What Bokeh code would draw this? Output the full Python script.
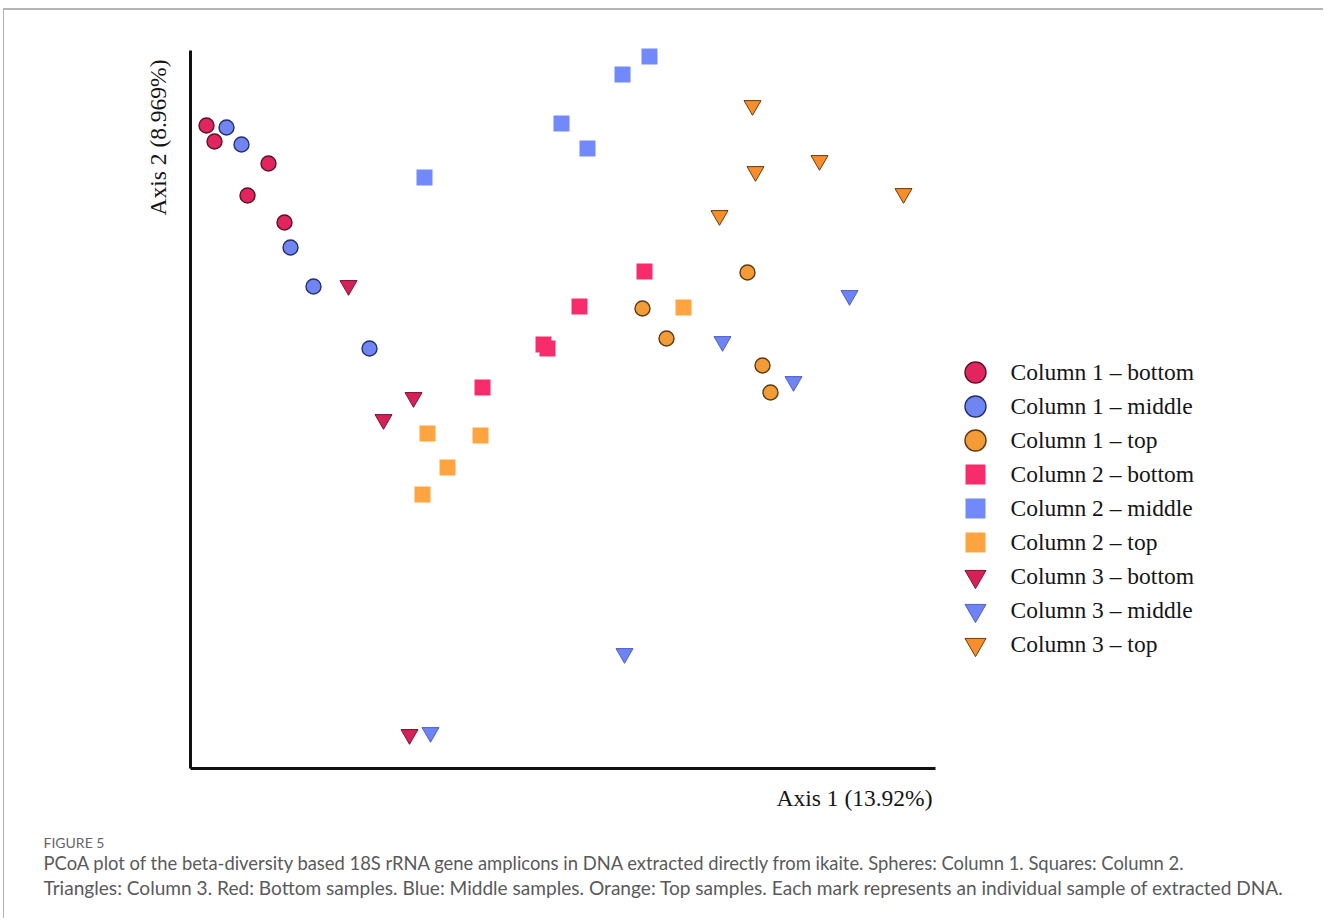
from bokeh.plotting import figure
from bokeh.models import Range1d, Label, FixedTicker, ColumnDataSource
from bokeh.core.properties import value
from bokeh.embed import file_html
from bokeh.resources import INLINE

# ---- data (PCoA scores) ----
c1_bottom_x = [-0.234, -0.226, -0.172, -0.193, -0.156]
c1_bottom_y = [0.293, 0.277, 0.255, 0.223, 0.196]
c1_middle_x = [-0.214, -0.199, -0.150, -0.127, -0.071]
c1_middle_y = [0.291, 0.274, 0.171, 0.132, 0.070]
c1_top_x = [0.307, 0.202, 0.226, 0.322, 0.330]
c1_top_y = [0.146, 0.110, 0.080, 0.053, 0.026]

c2_bottom_x = [0.204, 0.139, 0.103, 0.107, 0.042]
c2_bottom_y = [0.147, 0.112, 0.074, 0.070, 0.031]
c2_middle_x = [0.209, 0.182, 0.121, 0.147, -0.016]
c2_middle_y = [0.362, 0.344, 0.295, 0.270, 0.241]
c2_top_x = [0.243, -0.013, 0.040, 0.007, -0.018]
c2_top_y = [0.111, -0.015, -0.017, -0.049, -0.076]

c3_bottom_x = [-0.092, -0.027, -0.057, -0.031]
c3_bottom_y = [0.133, 0.021, -0.001, -0.316]
c3_middle_x = [0.409, 0.282, 0.353, 0.184, -0.010]
c3_middle_y = [0.123, 0.077, 0.037, -0.235, -0.314]
c3_top_x = [0.312, 0.379, 0.315, 0.463, 0.279]
c3_top_y = [0.313, 0.258, 0.247, 0.225, 0.203]

labels = ["Column 1 \u2013 bottom", "Column 1 \u2013 middle", "Column 1 \u2013 top",
          "Column 2 \u2013 bottom", "Column 2 \u2013 middle", "Column 2 \u2013 top",
          "Column 3 \u2013 bottom", "Column 3 \u2013 middle", "Column 3 \u2013 top"]

x_title = "Axis 1 (13.92%)"
y_title = "Axis 2 (8.969%)"
fig_label = "FIGURE 5"
caption_1 = ("PCoA plot of the beta-diversity based 18S rRNA gene amplicons in DNA extracted "
             "directly from ikaite. Spheres: Column 1. Squares: Column 2.")
caption_2 = ("Triangles: Column 3. Red: Bottom samples. Blue: Middle samples. Orange: Top samples. "
             "Each mark represents an individual sample of extracted DNA.")

# axis extents (data units)
x_min, x_max = -0.25, 0.495
y_min, y_max = -0.35, 0.368

# ---- styles: marker, size, fill, outline, outline width, legend size ----
styles = [
    ("circle", 15, "#E2255E", "#5A1428", 1.4, 21),
    ("circle", 15, "#6E85F2", "#26306E", 1.4, 21),
    ("circle", 15, "#F39B36", "#5C3A12", 1.4, 21),
    ("square", 16, "#F82C6B", "#F82C6B", 0.0, 20),
    ("square", 16, "#7289FB", "#7289FB", 0.0, 20),
    ("square", 16, "#FFA43F", "#FFA43F", 0.0, 20),
    ("inverted_triangle", 17, "#D6205A", "#7A1232", 1.0, 21),
    ("inverted_triangle", 17, "#6E83F6", "#3A48B0", 0.8, 21),
    ("inverted_triangle", 17, "#F68E2B", "#6B3A10", 1.0, 21),
]
data = [(c1_bottom_x, c1_bottom_y), (c1_middle_x, c1_middle_y), (c1_top_x, c1_top_y),
        (c2_bottom_x, c2_bottom_y), (c2_middle_x, c2_middle_y), (c2_top_x, c2_top_y),
        (c3_bottom_x, c3_bottom_y), (c3_middle_x, c3_middle_y), (c3_top_x, c3_top_y)]

W, H = 1320, 910
p = figure(width=W, height=H, output_backend="svg", toolbar_location=None,
           x_range=Range1d(-0.436, 0.884), y_range=Range1d(-0.502, 0.408),
           min_border_left=0, min_border_right=0, min_border_top=0,
           min_border_bottom=0)
p.styles = {"margin-left": "3px", "margin-top": "8px",
            "border-top": "2px solid #b4b4b4", "border-left": "1px solid #b4b4b4"}
p.grid.visible = False
p.outline_line_color = None
p.background_fill_color = "white"
p.border_fill_color = "white"

# legend rows live in their own ranges (one unit per row)
p.extra_x_ranges = {"legx": Range1d(-971, 349)}
p.extra_y_ranges = {"legy": Range1d(16.118, -10.647)}

for ax in (p.xaxis[0], p.yaxis[0]):
    ax.ticker = FixedTicker(ticks=[])
    ax.axis_line_width = 3
    ax.axis_line_color = "#111111"
    ax.major_tick_line_color = None
    ax.minor_tick_line_color = None
    ax.major_tick_out = 0
    ax.major_tick_in = 0
    ax.minor_tick_out = 0
    ax.minor_tick_in = 0
    ax.major_label_standoff = 0
p.xaxis[0].bounds = (x_min, x_max)
p.xaxis[0].fixed_location = y_min
p.yaxis[0].bounds = (y_min, y_max)
p.yaxis[0].fixed_location = x_min

for (mk, sz, fc, lc, lw, ls), (xs, ys) in zip(styles, data):
    p.scatter(xs, ys, marker=mk, size=sz, fill_color=fc,
              line_color=lc, line_width=max(lw, 0.01), line_alpha=1 if lw else 0.0)

leg = ColumnDataSource(dict(
    x=[0] * len(labels), y=list(range(len(labels))), text=labels,
    marker=[s[0] for s in styles], size=[s[5] for s in styles],
    fill=[s[2] for s in styles], line=[s[3] for s in styles],
    lw=[max(s[4], 0.01) for s in styles], la=[1 if s[4] else 0.0 for s in styles]))
p.scatter("x", "y", source=leg, marker="marker", size="size", fill_color="fill",
          line_color="line", line_width="lw", line_alpha="la",
          x_range_name="legx", y_range_name="legy")
p.text("x", "y", text="text", source=leg, x_offset=35, text_align="left",
       text_baseline="middle", text_font=value("Liberation Serif"),
       text_font_size="23.5px", text_color="#151515",
       x_range_name="legx", y_range_name="legy")

serif = "Liberation Serif"
p.add_layout(Label(x=153, y=783, x_units="screen", y_units="screen", text=y_title,
                   angle=1.5707963, text_align="center", text_baseline="middle",
                   text_font=serif, text_font_size="23.5px", text_color="#151515"))
p.add_layout(Label(x=850, y=123, x_units="screen", y_units="screen", text=x_title,
                   text_align="center", text_baseline="middle",
                   text_font=serif, text_font_size="23.5px", text_color="#151515"))

sans = "Lato"
p.add_layout(Label(x=39, y=78, x_units="screen", y_units="screen", text=fig_label,
                   text_align="left", text_baseline="middle",
                   text_font=sans, text_font_size="14px", text_color="#666666"))
p.add_layout(Label(x=39, y=58, x_units="screen", y_units="screen", text=caption_1,
                   text_align="left", text_baseline="middle",
                   text_font=sans, text_font_size="18.4px", text_color="#5a5a5a"))
p.add_layout(Label(x=39, y=33, x_units="screen", y_units="screen", text=caption_2,
                   text_align="left", text_baseline="middle",
                   text_font=sans, text_font_size="19.1px", text_color="#5a5a5a"))

open("out.html", "w").write(file_html(p, INLINE))
